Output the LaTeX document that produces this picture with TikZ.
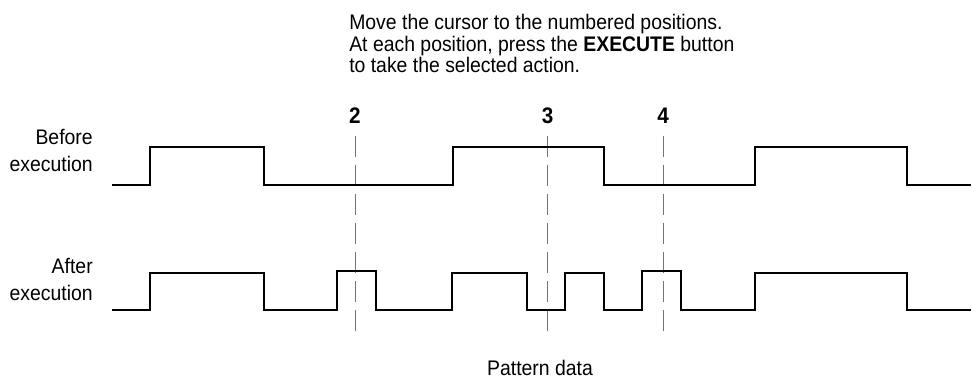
\documentclass[tikz,border=0pt]{standalone}
\usepackage{fontspec}
\setmainfont{Liberation Sans}[FakeStretch=0.92]
\usepackage{xcolor}
\usepackage{tikz}

\begin{document}
\begin{tikzpicture}[x=0.025cm, y=-0.025cm, font=\fontsize{15}{15.4}\selectfont,
    wave/.style={line width=1.4pt, line join=miter},
    cursorline/.style={black!55, line width=0.7pt, dash pattern=on 14.9pt off 5.7pt}]
    \useasboundingbox (0,0) rectangle (972,380);

    % instruction text
    \node[anchor=base west, align=left, inner sep=0pt] (hint) at (349,72.7)
      {Move the cursor to the numbered positions.\\
       At each position, press the \textbf{EXECUTE} button\\
       to take the selected action.};

    % row labels
    \node[anchor=base east, align=right, inner sep=0pt,
      font=\fontsize{15}{19.2}\selectfont] (before) at (93,171.7)
      {Before\\execution};
    \node[anchor=base east, align=right, inner sep=0pt,
      font=\fontsize{15}{19.2}\selectfont] (after) at (93,300)
      {After\\execution};

    % cursor positions
    \foreach \x/\n in {355/2, 547.5/3, 663/4} {
      \node[anchor=base, inner sep=0pt, font=\fontsize{16}{16}\selectfont\bfseries] (num\n) at (\x,124) {\n};
      \draw[cursorline] (\x,136) -- (\x,335);
    }

    % before execution
    \draw[wave] (112,185) -- (150,185) -- (150,147) -- (264,147) -- (264,185)
      -- (453,185) -- (453,147) -- (604,147) -- (604,185)
      -- (755,185) -- (755,147) -- (907,147) -- (907,185) -- (971,185);

    % after execution
    \draw[wave] (112,310) -- (150,310) -- (150,273) -- (264,273) -- (264,310)
      -- (337,310) -- (337,271) -- (376,271) -- (376,310)
      -- (452,310) -- (452,273) -- (527,273) -- (527,310)
      -- (565,310) -- (565,273) -- (604,273) -- (604,310)
      -- (642,310) -- (642,271) -- (681,271) -- (681,310)
      -- (755,310) -- (755,273) -- (907,273) -- (907,310) -- (971,310);

    \node[anchor=base, inner sep=0pt] (pattern) at (540,375) {Pattern data};
\end{tikzpicture}
\end{document}
